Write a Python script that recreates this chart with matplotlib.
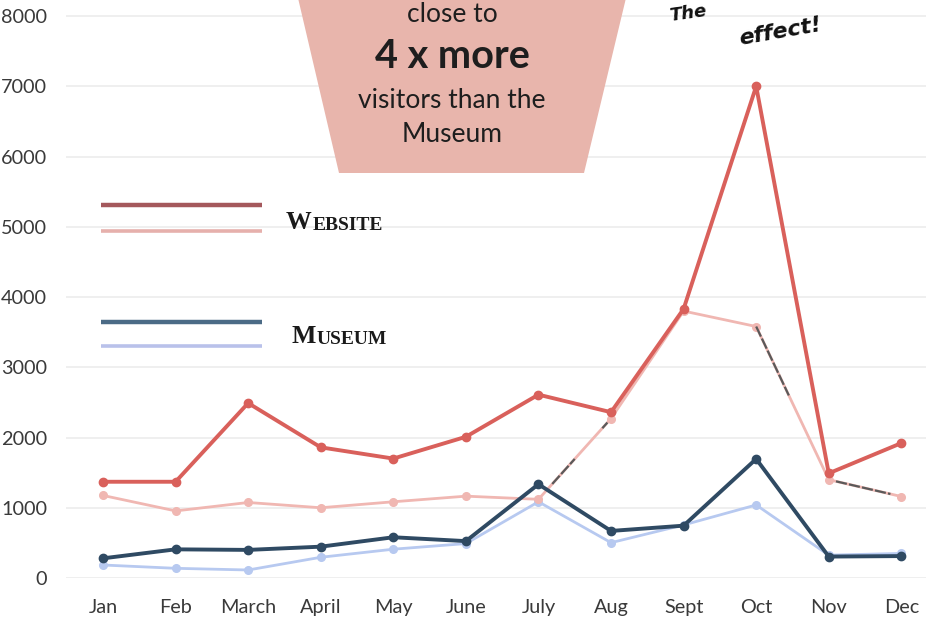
import matplotlib
matplotlib.use("Agg")
import matplotlib.pyplot as plt
from matplotlib.patches import Polygon
from matplotlib.lines import Line2D
import numpy as np

months = ["Jan", "Feb", "March", "April", "May", "June", "July", "Aug", "Sept", "Oct", "Nov", "Dec"]
website_this_year = [1370, 1370, 2490, 1860, 1700, 2010, 2610, 2360, 3830, 7000, 1490, 1920]
website_last_year = [1175, 955, 1075, 1000, 1085, 1165, 1120, 2270, 3800, 3580, 1400, 1160]
museum_this_year = [280, 408, 400, 446, 580, 525, 1335, 670, 745, 1695, 305, 312]
museum_last_year = [185, 138, 114, 295, 410, 490, 1085, 503, 755, 1040, 325, 350]
y_ticks = [0, 1000, 2000, 3000, 4000, 5000, 6000, 7000, 8000]

callout_lines = ["close to", "4 x more", "visitors than the", "Museum"]

C_WEB = "#d9605b"
C_WEB_LIGHT = "#f0b7b2"
C_MUS = "#2f4a63"
C_MUS_LIGHT = "#b7c9f0"

W, H = 926, 618
fig = plt.figure(figsize=(W / 100, H / 100), dpi=100)
fig.patch.set_facecolor("white")


def fx(px):
    return px / W


def fy(py):
    return 1 - py / H


ax = fig.add_axes([fx(66), fy(578), fx(926) - fx(66), fy(0) - fy(578)])
ax.set_xlim(-0.51, 11.34)
ax.set_ylim(0, 8228)
ax.set_facecolor("none")
for s in ax.spines.values():
    s.set_visible(False)

ax.set_yticks(y_ticks)
ax.set_yticklabels([str(v) for v in y_ticks], fontfamily="Lato", fontsize=14.3, color="#3a3a3a")
x = np.arange(len(months))
ax.set_xticks(x)
ax.set_xticklabels(months, fontfamily="Lato", fontsize=14.3, color="#3a3a3a")
ax.tick_params(axis="both", length=0)
ax.tick_params(axis="y", pad=13.5)
ax.tick_params(axis="x", pad=15)
ax.grid(axis="y", color="#ececec", linewidth=1.2)
ax.set_axisbelow(True)

# Light (previous year) series first, so the bold lines sit on top
ax.plot(x, museum_last_year, color=C_MUS_LIGHT, lw=2.0, marker="o", ms=5.5, zorder=3)
ax.plot(x, website_last_year, color=C_WEB_LIGHT, lw=2.0, marker="o", ms=5.5, zorder=3)
ax.plot(x, museum_this_year, color=C_MUS, lw=2.8, marker="o", ms=6, zorder=4)
ax.plot(x, website_this_year, color=C_WEB, lw=2.8, marker="o", ms=6, zorder=4)

# Pen strokes traced over parts of the light website line
for i0, f0, f1 in [(6, 0.19, 0.5), (6, 0.88, 0.95), (9, 0.0, 0.45), (10, 0.1, 0.85)]:
    dy = website_last_year[i0 + 1] - website_last_year[i0]
    ax.plot([x[i0] + f0, x[i0] + f1],
            [website_last_year[i0] + f0 * dy, website_last_year[i0] + f1 * dy],
            color="#5a5a5a", lw=1.6, ls=(0, (5, 1)), zorder=5)

# Callout trapezoid at the top
trap = Polygon([(fx(298), fy(-2)), (fx(626), fy(-2)), (fx(584), fy(173)), (fx(339), fy(173))],
               closed=True, transform=fig.transFigure, facecolor="#e8b5ac",
               edgecolor="none", zorder=2)
fig.add_artist(trap)
cx = fx(452)
fig.text(cx, fy(15), callout_lines[0], ha="center", va="center", fontfamily="Lato",
         fontsize=19, color="#1e1e1e", zorder=3)
fig.text(cx, fy(57), callout_lines[1], ha="center", va="center", fontfamily="Lato",
         fontsize=28.5, fontweight="bold", color="#1e1e1e", zorder=3)
fig.text(cx, fy(101), callout_lines[2], ha="center", va="center", fontfamily="Lato",
         fontsize=19, color="#1e1e1e", zorder=3)
fig.text(cx, fy(135), callout_lines[3], ha="center", va="center", fontfamily="Lato",
         fontsize=19, color="#1e1e1e", zorder=3)

# Handwritten note at the top right
fig.text(fx(668), fy(13), "The", ha="left", va="center", fontfamily="DejaVu Sans",
         fontstyle="italic", fontweight="bold", fontsize=13, rotation=8, color="#111111")
fig.text(fx(780), fy(32), "effect!", ha="center", va="center", fontfamily="DejaVu Sans",
         fontstyle="italic", fontweight="bold", fontsize=16, rotation=10, color="#111111")

# Hand-made legend with small-caps labels
legend_rows = [
    (205, "#a4585c", 231, "#e6b0ac", "W", "EBSITE", 286, 229),
    (322, "#4b6b86", 346, "#b9c1ea", "M", "USEUM", 292, 343),
]
for yd, cd, yl, cl, big, small, tx, ty in legend_rows:
    fig.add_artist(Line2D([fx(101), fx(262)], [fy(yd), fy(yd)], transform=fig.transFigure,
                          color=cd, lw=3.2, solid_capstyle="butt"))
    fig.add_artist(Line2D([fx(101), fx(262)], [fy(yl), fy(yl)], transform=fig.transFigure,
                          color=cl, lw=2.6, solid_capstyle="butt"))
    t = fig.text(fx(tx), fy(ty), big, ha="left", va="baseline", fontfamily="Liberation Serif",
                 fontweight="bold", fontsize=18.5, color="#1a1a1a")
    ax.annotate(small, xy=(1, 0), xycoords=t, xytext=(0.3, 0), textcoords="offset points",
                ha="left", va="bottom", fontfamily="Liberation Serif", fontweight="bold",
                fontsize=14, color="#1a1a1a", annotation_clip=False)

fig.savefig("out.png", dpi=100, facecolor="white")
